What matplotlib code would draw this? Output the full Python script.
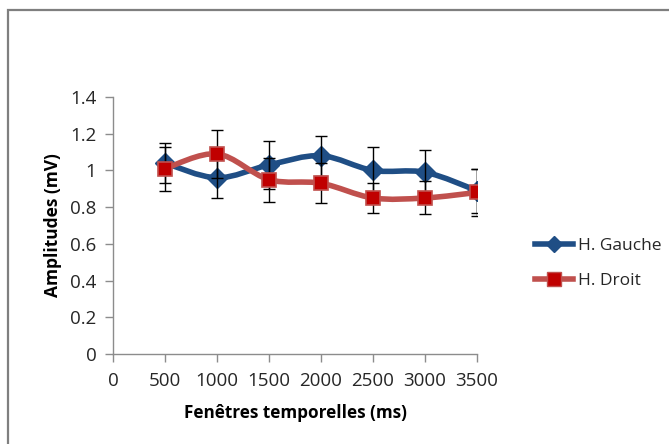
import matplotlib
matplotlib.use("Agg")
import matplotlib.pyplot as plt
from matplotlib.path import Path
from matplotlib.patches import PathPatch, Rectangle
from matplotlib.lines import Line2D
import numpy as np

plt.rcParams['font.family'] = ['Open Sans', 'DejaVu Sans']

x_vals = [500, 1000, 1500, 2000, 2500, 3000, 3500]
gauche = [1.04, 0.96, 1.03, 1.08, 1.00, 0.99, 0.89]
gauche_err = [0.11, 0.11, 0.13, 0.11, 0.13, 0.12, 0.12]
droit = [1.01, 1.09, 0.95, 0.93, 0.85, 0.85, 0.88]
droit_err = [0.12, 0.13, 0.12, 0.11, 0.08, 0.09, 0.13]
series_names = ["H. Gauche", "H. Droit"]
x_ticks = [0, 500, 1000, 1500, 2000, 2500, 3000, 3500]
y_ticks = [0, 0.2, 0.4, 0.6, 0.8, 1.0, 1.2, 1.4]
y_tick_labels = ["0", "0.2", "0.4", "0.6", "0.8", "1", "1.2", "1.4"]

BLUE = "#1F4E85"
RED_LINE = "#C0504D"
RED_MARK = "#C00000"
GRAY = "#8C8C8C"
TEXT = "#262626"

fig = plt.figure(figsize=(6.69, 4.44), dpi=100)
# outer chart frame
fig.patches.append(Rectangle((8/669, -0.05), 1.0, 1 - 10/444 + 0.05, transform=fig.transFigure,
                             fill=False, edgecolor="#7F7F7F", linewidth=1.6))

ax = fig.add_axes([113/669, 1 - 354/444, (477 - 113)/669, (354 - 97)/444])
ax.set_xlim(0, 3500)
ax.set_ylim(0, 1.4)


def smooth_path(xs, ys):
    pts = np.column_stack([xs, ys]).astype(float)
    verts = [pts[0]]
    codes = [Path.MOVETO]
    n = len(pts)
    for i in range(n - 1):
        p0 = pts[i - 1] if i > 0 else pts[i]
        p1 = pts[i]
        p2 = pts[i + 1]
        p3 = pts[i + 2] if i + 2 < n else pts[i + 1]
        c1 = p1 + (p2 - p0) / 6.0
        c2 = p2 - (p3 - p1) / 6.0
        verts += [c1, c2, p2]
        codes += [Path.CURVE4] * 3
    return Path(verts, codes)


# blue series
ax.add_patch(PathPatch(smooth_path(x_vals, gauche), fill=False, edgecolor=BLUE,
                       linewidth=4, zorder=2, capstyle='round', joinstyle='round'))
ax.plot(x_vals, gauche, linestyle='none', marker='D', markersize=10,
        markerfacecolor=BLUE, markeredgecolor=BLUE, zorder=2.1)
ax.errorbar(x_vals, gauche, yerr=gauche_err, fmt='none', ecolor='black',
            elinewidth=1, capsize=4, capthick=1, zorder=3)

# red series
ax.errorbar(x_vals, droit, yerr=droit_err, fmt='none', ecolor='black',
            elinewidth=1, capsize=4, capthick=1, zorder=3.5)
ax.add_patch(PathPatch(smooth_path(x_vals, droit), fill=False, edgecolor=RED_LINE,
                       linewidth=4, zorder=4, capstyle='round', joinstyle='round'))
ax.plot(x_vals, droit, linestyle='none', marker='s', markersize=10,
        markerfacecolor=RED_MARK, markeredgecolor=RED_LINE, markeredgewidth=1.2, zorder=4.1)

ax.set_xticks(x_ticks)
ax.set_xticklabels([str(v) for v in x_ticks])
ax.set_yticks(y_ticks)
ax.set_yticklabels(y_tick_labels)

for s in ['top', 'right']:
    ax.spines[s].set_visible(False)
for s in ['left', 'bottom']:
    ax.spines[s].set_color(GRAY)
    ax.spines[s].set_linewidth(1)
ax.tick_params(axis='both', colors=GRAY, length=6, width=1, direction='out',
               labelsize=13.5, labelcolor=TEXT)
ax.tick_params(axis='y', pad=6)
ax.tick_params(axis='x', pad=7)

ax.set_xlabel("Fenêtres temporelles (ms)", fontsize=12.3, fontweight='bold', labelpad=10,
              color='black')
ax.set_ylabel("Amplitudes (mV)", fontsize=12.5, fontweight='bold', labelpad=6,
              color='black')

handles = [
    Line2D([0], [0], color=BLUE, linewidth=4, marker='D', markersize=8,
           markerfacecolor=BLUE, markeredgecolor=BLUE),
    Line2D([0], [0], color=RED_LINE, linewidth=4, marker='s', markersize=10,
           markerfacecolor=RED_MARK, markeredgecolor=RED_LINE),
]
fig.legend(handles, series_names, loc='upper left', bbox_to_anchor=(526/669, 1 - 229/444),
           frameon=False, fontsize=12.5, handlelength=2.2, handletextpad=0.3,
           labelspacing=1.1, borderpad=0, labelcolor=TEXT)

fig.savefig("out.png", dpi=100)
